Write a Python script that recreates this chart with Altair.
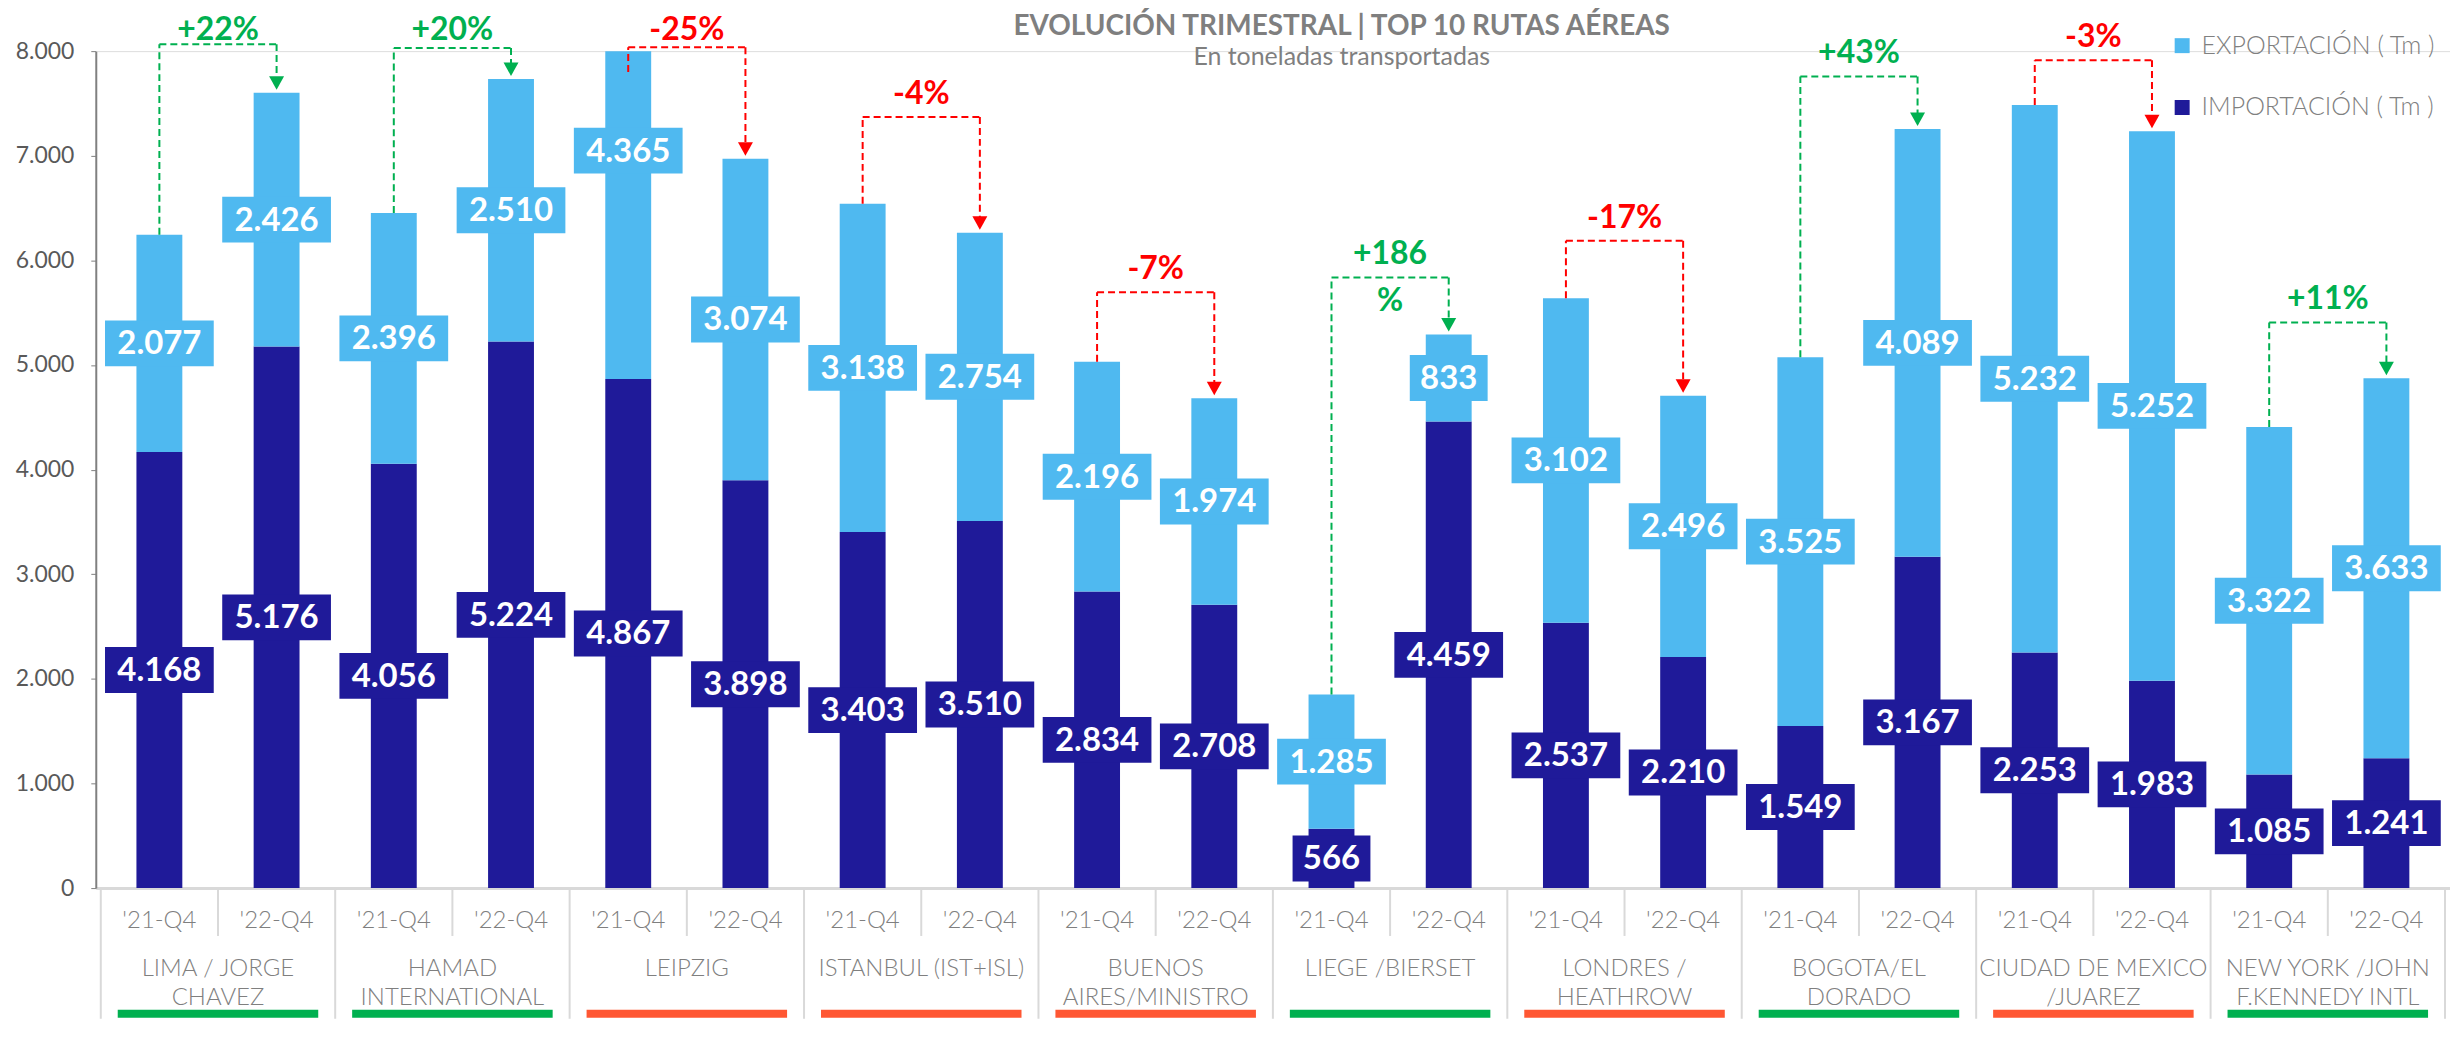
import altair as alt
import pandas as pd

# ---------------- data ----------------
routes = [
    "LIMA / JORGE\nCHAVEZ",
    "HAMAD\nINTERNATIONAL",
    "LEIPZIG",
    "ISTANBUL (IST+ISL)",
    "BUENOS\nAIRES/MINISTRO",
    "LIEGE /BIERSET",
    "LONDRES /\nHEATHROW",
    "BOGOTA/EL\nDORADO",
    "CIUDAD DE MEXICO\n/JUAREZ",
    "NEW YORK /JOHN\nF.KENNEDY INTL",
]
quarters = ["'21-Q4", "'22-Q4"]
imp_21 = [4168, 4056, 4867, 3403, 2834, 566, 2537, 1549, 2253, 1085]
imp_22 = [5176, 5224, 3898, 3510, 2708, 4459, 2210, 3167, 1983, 1241]
exp_21 = [2077, 2396, 4365, 3138, 2196, 1285, 3102, 3525, 5232, 3322]
exp_22 = [2426, 2510, 3074, 2754, 1974, 833, 2496, 4089, 5252, 3633]
pct_change = [22, 20, -25, -4, -7, 186, -17, 43, -3, 11]
connector_level = [8067, 8029, 8038, 7371, 5696, 5836, 6188, 7758, 7914, 5406]
series_names = ["EXPORTACIÓN ( Tm )", "IMPORTACIÓN ( Tm )"]
series_colors = ["#4FB9F0", "#1F1A99"]
title_text = "EVOLUCIÓN TRIMESTRAL | TOP 10 RUTAS AÉREAS"
subtitle_text = "En toneladas transportadas"
y_max = 8000

# ---------------- derived tables ----------------
bar_rows, quarter_rows = [], []
for i in range(len(routes)):
    pairs = [(imp_21[i], exp_21[i]), (imp_22[i], exp_22[i])]
    for q, (imp, exp) in enumerate(pairs):
        x = 2 * i + q + 0.5
        bar_rows.append(dict(x=x, series=series_names[1], start=0, end=imp, value=imp, mid=imp / 2))
        bar_rows.append(dict(x=x, series=series_names[0], start=imp, end=imp + exp, value=exp, mid=imp + exp / 2))
        quarter_rows.append(dict(x=x, q=quarters[q]))
bars_df = pd.DataFrame(bar_rows)
quarters_df = pd.DataFrame(quarter_rows)

conn_rows = []
for i in range(len(routes)):
    t21 = imp_21[i] + exp_21[i]
    t22 = imp_22[i] + exp_22[i]
    conn_rows.append(dict(
        xa=2 * i + 0.5, xb=2 * i + 1.5, xm=2 * i + 1, g0=2 * i, g1=2 * i + 2,
        top21=min(t21, y_max * 0.975), top22=t22, level=connector_level[i],
        ty=min(connector_level[i] + 220, y_max + 200),
        pct=pct_change[i], route=routes[i],
    ))
conn_df = pd.DataFrame(conn_rows)
sep_df = pd.DataFrame({"k": list(range(2 * len(routes) + 1))})
title_df = pd.DataFrame({"t": [title_text]})
subtitle_df = pd.DataFrame({"t": [subtitle_text]})

# ---------------- scales ----------------
X = lambda f: alt.X(f, type="quantitative",
                    scale=alt.Scale(domain=[0, 2 * len(routes)], nice=False, zero=False),
                    axis=alt.Axis(domainColor="#d9d9d9", domainWidth=3, labels=False,
                                  ticks=False, grid=False, title=None))
yscale = alt.Scale(domain=[0, y_max], nice=False)
yaxis = alt.Axis(values=list(range(0, y_max + 1, 1000)),
                 labelExpr="replace(format(datum.value, ',.0f'), ',', '.')",
                 tickSize=5, tickColor="#808080", domainColor="#808080", domainWidth=2,
                 labelFontSize=23, labelColor="#595959", labelFont="Lato",
                 labelPadding=17, title=None, grid=False)
Y = lambda f: alt.Y(f, type="quantitative", scale=yscale, axis=yaxis)
color_scale = alt.Scale(domain=series_names, range=series_colors)
sign_col = (alt.when(alt.datum.pct > 0).then(alt.value("#00B050"))
            .otherwise(alt.value("#FF0000")))
under_col = (alt.when(alt.datum.pct > 0).then(alt.value("#00B050"))
             .otherwise(alt.value("#FF5733")))

legend = alt.Legend(orient="none", legendX=2079, legendY=-18, title=None,
                    symbolType="square", symbolSize=225, symbolStrokeWidth=0,
                    labelFontSize=25, labelFont="Lato", labelFontWeight=300,
                    labelColor="#808080", rowPadding=36, labelOffset=7, padding=0,
                    labelLimit=400, direction="vertical")

bars = alt.Chart(bars_df).mark_bar(width=46, clip=True).encode(
    x=X("x"), y=Y("start"), y2="end",
    color=alt.Color("series:N", scale=color_scale, legend=legend),
)

label_base = alt.Chart(bars_df).transform_calculate(
    lbl="replace(format(datum.value, ',.0f'), ',', '.')"
).transform_calculate(
    kind="length(datum.lbl) > 3 ? 'wide' : 'narrow'"
)
boxes = label_base.mark_point(filled=True, opacity=1, size=11881, strokeWidth=0).encode(
    x=X("x"), y=Y("mid"),
    color=alt.Color("series:N", scale=color_scale, legend=legend),
    shape=alt.Shape("kind:N", scale=alt.Scale(
        domain=["wide", "narrow"],
        range=["M-1,-0.422H1V0.422H-1Z", "M-0.716,-0.422H0.716V0.422H-0.716Z"]),
        legend=None),
)
box_text = label_base.mark_text(font="Lato", fontWeight="bold", fontSize=33,
                                color="white", baseline="middle", dy=1).encode(
    x=X("x"), y=Y("mid"), text="lbl:N")

dash = [7, 4]
leg1 = alt.Chart(conn_df).mark_rule(strokeDash=dash, strokeWidth=2).encode(
    x=X("xa"), y=Y("top21"), y2="level", stroke=sign_col)
horiz = alt.Chart(conn_df).mark_rule(strokeDash=dash, strokeWidth=2).encode(
    x=X("xa"), x2="xb", y=Y("level"), stroke=sign_col)
leg2 = alt.Chart(conn_df).mark_rule(strokeDash=dash, strokeWidth=2, y2Offset=-15).encode(
    x=X("xb"), y=Y("level"), y2="top22", stroke=sign_col)
arrows = alt.Chart(conn_df).mark_point(shape="M-1,-2.2L1,-2.2L0,-0.4Z", filled=True,
                                       size=225, opacity=1, strokeWidth=0).encode(
    x=X("xb"), y=Y("top22"), fill=sign_col)
pct_text = alt.Chart(conn_df).transform_calculate(
    plabel="(datum.pct > 0 ? '+' : '') + datum.pct + (abs(datum.pct) >= 100 ? '\\n' : '') + '%'"
).mark_text(font="Lato", fontWeight="bold", fontSize=32, baseline="middle",
            lineBreak="\n", lineHeight=47).encode(
    x=X("xm"), y=Y("ty"), text="plabel:N", color=sign_col)

q_text = alt.Chart(quarters_df).mark_text(font="Lato", fontWeight=300, fontSize=24,
                                          color="#7f7f7f", baseline="middle").encode(
    x=X("x"), y=alt.value(872), text="q:N")
r_text = alt.Chart(conn_df).mark_text(font="Lato", fontWeight=300, fontSize=24,
                                      color="#7f7f7f", baseline="top", lineBreak="\n",
                                      lineHeight=29).encode(
    x=X("xm"), y=alt.value(908), text="route:N")
underline = alt.Chart(conn_df).mark_rule(strokeWidth=8, xOffset=17, x2Offset=-17).encode(
    x=X("g0"), x2="g1", y=alt.value(965), stroke=under_col)
sep_long = alt.Chart(sep_df).transform_filter("datum.k % 2 == 0").mark_rule(
    color="#d9d9d9", strokeWidth=2).encode(x=X("k"), y=alt.value(840), y2=alt.value(970))
sep_short = alt.Chart(sep_df).transform_filter("datum.k % 2 == 1").mark_rule(
    color="#d9d9d9", strokeWidth=2).encode(x=X("k"), y=alt.value(840), y2=alt.value(887))

title = alt.Chart(title_df).mark_text(font="Lato", fontWeight="bold", fontSize=28,
                                      color="#7f7f7f", align="center",
                                      baseline="alphabetic").encode(
    x=alt.value(1249), y=alt.value(-16), text="t:N")
subtitle = alt.Chart(subtitle_df).mark_text(font="Lato", fontSize=25, color="#7f7f7f",
                                            align="center", baseline="alphabetic").encode(
    x=alt.value(1249), y=alt.value(14), text="t:N")

chart = alt.layer(
    sep_long, sep_short, bars, boxes, box_text, leg1, horiz, leg2, arrows, pct_text,
    q_text, r_text, underline, title, subtitle,
).properties(
    width=2360, height=839,
    padding={"left": 88, "top": 42, "right": 0, "bottom": 134},
    autosize=alt.AutoSizeParams(type="none"),
).configure_view(stroke=None).configure(background="white")

chart.save("out.html", embed_options={"renderer": "svg", "actions": False})
